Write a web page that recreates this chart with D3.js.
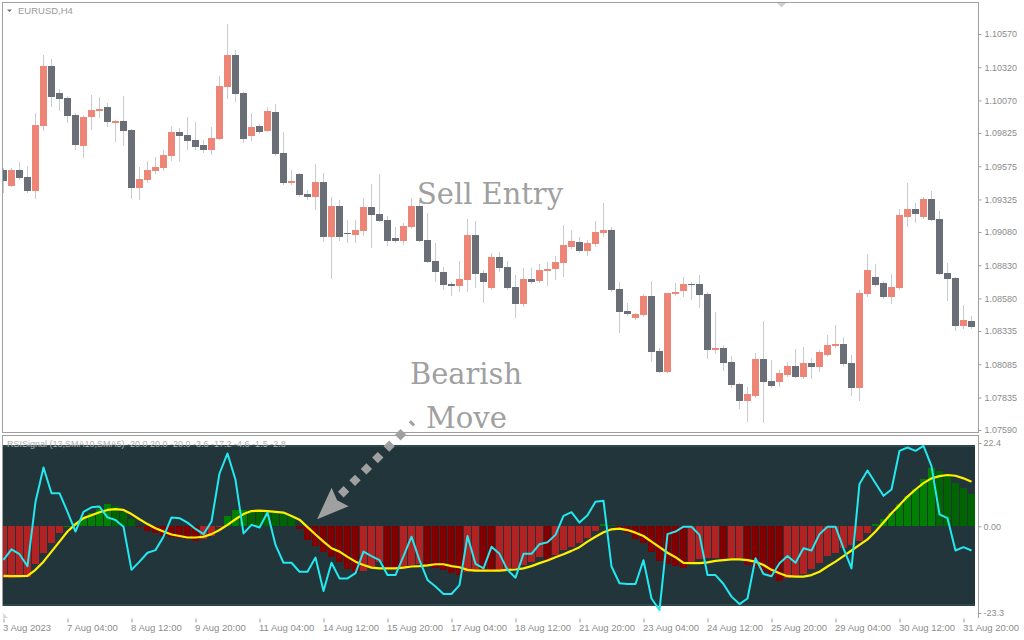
<!DOCTYPE html>
<html><head><meta charset="utf-8">
<script src="https://cdn.jsdelivr.net/npm/d3@7"></script>
<style>html,body{margin:0;padding:0;background:#fff;}svg{display:block;}</style>
</head><body>
<svg id="chart" width="1024" height="640"></svg>
<script>
// ---------------- DATA ----------------
const symbolLabel = "EURUSD,H4";
const indicatorLabel = "RSISignal (13,SMA10,SMA5) -20.0 20.0 -20.0 -3.6 -17.2 -4.6 -1.5 -2.8";

const opens = [1.09546,1.09425,1.09546,1.09493,1.09388,1.09877,1.10329,1.10126,1.10088,1.09960,
1.09727,1.09945,1.09990,1.10020,1.09900,1.09915,1.09847,1.09410,1.09471,1.09538,
1.09561,1.09651,1.09832,1.09809,1.09772,1.09734,1.09697,1.09779,1.10171,1.10412,
1.10126,1.09802,1.09877,1.09840,1.09983,1.09674,1.09448,1.09516,1.09365,1.09343,
1.09456,1.09041,1.09275,1.09072,1.09056,1.09087,1.09267,1.09215,1.09169,1.09034,
1.09011,1.09117,1.09275,1.09019,1.08861,1.08778,1.08688,1.08672,1.08718,1.09056,
1.08770,1.08657,1.08891,1.08816,1.08665,1.08537,1.08725,1.08710,1.08785,1.08800,
1.08846,1.08966,1.09004,1.08936,1.08989,1.09072,1.09094,1.08650,1.08484,1.08432,
1.08454,1.08597,1.08183,1.08025,1.08612,1.08635,1.08688,1.08688,1.08612,1.08191,
1.08206,1.08100,1.07935,1.07807,1.07844,1.08123,1.07957,1.07950,1.08002,1.08070,
1.07987,1.08093,1.08062,1.08153,1.08221,1.08236,1.08093,1.07904,1.08612,1.08740,
1.08695,1.08590,1.08657,1.09192,1.09252,1.09192,1.09328,1.09177,1.08770,1.08733,
1.08371,1.08409];
const highs = [1.09561,1.09561,1.09606,1.09576,1.09975,1.10412,1.10382,1.10156,1.10103,1.09975,
1.09960,1.10111,1.10096,1.10050,1.09922,1.10103,1.09855,1.09569,1.09614,1.09644,
1.09697,1.09877,1.09862,1.09945,1.09907,1.09772,1.09870,1.10254,1.10645,1.10450,
1.10133,1.09975,1.09892,1.10020,1.10043,1.09832,1.09546,1.09523,1.09395,1.09591,
1.09523,1.09343,1.09320,1.09169,1.09169,1.09335,1.09441,1.09516,1.09200,1.09117,
1.09147,1.09335,1.09320,1.09222,1.08996,1.08816,1.08703,1.08861,1.09177,1.09162,
1.08793,1.08921,1.08928,1.08861,1.08755,1.08808,1.08808,1.08838,1.08853,1.08898,
1.09132,1.09094,1.09041,1.09019,1.09162,1.09297,1.09117,1.08703,1.08544,1.08469,
1.08612,1.08710,1.08206,1.08620,1.08695,1.08740,1.08703,1.08755,1.08627,1.08477,
1.08228,1.08145,1.07942,1.07912,1.08168,1.08409,1.08115,1.08040,1.08100,1.08198,
1.08213,1.08130,1.08191,1.08303,1.08379,1.08288,1.08153,1.08642,1.08913,1.08838,
1.08710,1.08763,1.09252,1.09448,1.09297,1.09343,1.09388,1.09237,1.08846,1.08740,
1.08529,1.08447];
const lows = [1.09373,1.09418,1.09471,1.09373,1.09328,1.09840,1.10020,1.09990,1.09900,1.09697,
1.09636,1.09847,1.09938,1.09870,1.09757,1.09727,1.09328,1.09320,1.09448,1.09516,
1.09538,1.09614,1.09606,1.09697,1.09697,1.09674,1.09659,1.09772,1.10081,1.10058,
1.09749,1.09764,1.09817,1.09832,1.09651,1.09433,1.09433,1.09343,1.09320,1.09245,
1.09004,1.08725,1.09011,1.08996,1.08996,1.09049,1.08959,1.09154,1.08974,1.08996,
1.08981,1.09102,1.09004,1.08846,1.08703,1.08642,1.08597,1.08627,1.08627,1.08657,
1.08544,1.08642,1.08778,1.08642,1.08432,1.08514,1.08688,1.08695,1.08672,1.08718,
1.08740,1.08951,1.08921,1.08898,1.08966,1.09041,1.08627,1.08319,1.08447,1.08416,
1.08439,1.08100,1.08017,1.08017,1.08597,1.08590,1.08567,1.08507,1.08123,1.08160,
1.08032,1.07904,1.07746,1.07648,1.07829,1.07641,1.07904,1.07912,1.07987,1.07980,
1.07972,1.07972,1.08025,1.08138,1.08206,1.08062,1.07844,1.07807,1.08590,1.08665,
1.08575,1.08537,1.08642,1.09117,1.09147,1.09177,1.09162,1.08755,1.08560,1.08334,
1.08349,1.08349];
const closes = [1.09463,1.09546,1.09486,1.09388,1.09885,1.10329,1.10096,1.10081,1.09953,1.09734,
1.09945,1.09998,1.10005,1.09907,1.09915,1.09840,1.09410,1.09478,1.09546,1.09569,
1.09659,1.09832,1.09802,1.09764,1.09719,1.09697,1.09787,1.10178,1.10412,1.10118,
1.09779,1.09870,1.09832,1.09990,1.09666,1.09448,1.09463,1.09358,1.09343,1.09456,
1.09041,1.09275,1.09041,1.09064,1.09094,1.09267,1.09207,1.09162,1.09011,1.09011,
1.09124,1.09275,1.09011,1.08853,1.08778,1.08680,1.08672,1.08725,1.09056,1.08763,
1.08703,1.08891,1.08808,1.08657,1.08537,1.08725,1.08703,1.08793,1.08800,1.08853,
1.08981,1.09011,1.08936,1.08996,1.09079,1.09094,1.08642,1.08477,1.08462,1.08462,
1.08597,1.08175,1.08025,1.08620,1.08627,1.08688,1.08680,1.08605,1.08191,1.08206,
1.08093,1.07927,1.07807,1.07859,1.08123,1.07950,1.07919,1.08017,1.08070,1.07987,
1.08093,1.08062,1.08175,1.08228,1.08236,1.08085,1.07904,1.08620,1.08793,1.08680,
1.08590,1.08665,1.09207,1.09252,1.09215,1.09328,1.09169,1.08763,1.08725,1.08371,
1.08416,1.08364];

// indicator: histogram, fast signal (cyan), smoothed signal (yellow)
const histogram = [-14.0,-13.8,-13.6,-13.5,-10.0,-7.3,-4.4,-1.7,0.2,1.0,
2.3,3.5,4.6,6.0,5.5,3.8,2.0,-0.3,-1.2,-1.7,
-2.6,-3.0,-3.2,-3.5,-3.9,-3.5,-2.6,-0.2,2.8,4.4,
4.45,4.4,4.3,4.0,3.7,3.3,2.4,-0.7,-3.6,-5.4,
-6.8,-8.2,-9.5,-11.5,-12.2,-12.0,-10.8,-9.5,-11.2,-11.7,
-10.8,-10.4,-10.0,-10.4,-11.2,-11.7,-12.5,-13.1,-12.2,-11.7,
-12.2,-12.4,-12.0,-11.7,-11.3,-10.4,-9.5,-8.3,-8.9,-7.7,
-6.4,-5.5,-4.6,-3.1,-1.3,0.5,0.4,-0.9,-1.9,-3.4,
-4.4,-6.8,-9.3,-10.0,-10.6,-11.3,-10.0,-8.9,-8.6,-8.4,
-8.9,-8.6,-8.5,-10.4,-10.8,-12.2,-13.5,-14.6,-14.0,-13.3,
-12.8,-11.6,-9.8,-7.9,-7.1,-5.9,-5.0,-3.9,-1.7,0.6,
1.9,3.5,6.0,8.2,9.9,12.6,15.8,14.9,13.4,11.7,
10.4,8.7];
const signalLine = [-9.0,-6.2,-7.5,-10.7,6.6,15.8,8.9,8.9,3.9,-1.4,
3.9,5.1,5.3,2.4,1.7,-0.1,-11.7,-9.5,-7.1,-6.4,
-2.8,2.4,2.2,1.0,-0.7,-2.1,1.3,14.2,19.6,12.5,
-1.9,0.4,-0.3,3.7,-5.0,-9.8,-9.8,-12.2,-12.2,-8.4,
-17.4,-9.8,-14.0,-14.0,-12.6,-6.8,-8.0,-9.1,-13.1,-13.1,
-8.0,-2.8,-9.1,-14.4,-16.2,-18.2,-18.2,-15.8,-2.6,-10.1,
-11.3,-5.5,-7.4,-11.7,-13.8,-7.4,-7.4,-4.8,-4.3,-2.3,
2.8,3.8,1.0,3.0,6.6,6.9,-10.8,-15.3,-15.5,-15.5,
-9.1,-19.4,-22.5,-2.1,-1.4,-0.1,-0.1,-2.3,-13.1,-13.1,
-15.5,-18.9,-20.9,-19.4,-8.6,-12.8,-13.4,-9.9,-8.0,-9.8,
-5.9,-6.5,-2.1,-0.1,-0.1,-5.9,-11.3,11.4,15.0,11.6,
8.2,9.9,20.3,21.2,20.3,21.6,16.2,3.2,2.2,-6.5,
-5.6,-6.5];
const smoothLine = [-13.3,-13.4,-13.4,-13.3,-11.7,-9.5,-6.8,-4.1,-1.4,0.6,
2.2,3.0,3.8,4.4,4.6,4.4,3.3,1.9,0.6,-0.5,
-1.4,-2.2,-2.6,-3.0,-3.0,-2.8,-2.1,-1.0,0.4,1.9,
3.3,4.1,4.2,4.1,3.9,3.7,2.8,1.8,-0.2,-2.2,
-4.1,-5.9,-6.8,-8.2,-9.5,-10.4,-11.1,-11.3,-11.3,-11.3,
-11.1,-10.8,-10.7,-10.5,-10.2,-10.2,-10.7,-11.0,-11.7,-11.9,
-11.9,-11.9,-11.9,-11.7,-11.6,-11.3,-10.7,-9.9,-9.2,-8.3,
-7.5,-6.6,-5.6,-4.1,-2.8,-1.6,-0.8,-0.6,-1.0,-1.7,
-2.6,-4.1,-5.6,-7.1,-8.3,-9.8,-9.9,-9.9,-9.7,-9.3,
-9.1,-8.9,-8.9,-9.1,-9.5,-10.4,-11.7,-12.6,-13.4,-13.5,
-13.5,-13.1,-12.2,-10.8,-9.5,-8.0,-6.5,-5.0,-3.5,-1.4,
1.0,3.5,5.7,8.0,9.9,11.6,12.9,13.5,13.8,13.6,
12.9,12.0];

const priceTicks = [1.10570,1.10320,1.10070,1.09825,1.09575,1.09325,1.09080,1.08830,1.08580,1.08335,1.08085,1.07835,1.07590];
const priceTickLabels = ["1.10570","1.10320","1.10070","1.09825","1.09575","1.09325","1.09080","1.08830","1.08580","1.08335","1.08085","1.07835","1.07590"];
const indTicks = [22.4, 0, -23.3];
const indTickLabels = ["22.4","0.00","-23.3"];
const timeTickIndex = [0,8,16,24,32,40,48,56,64,72,80,88,96,104,112,120];
const timeLabels = ["3 Aug 2023","7 Aug 04:00","8 Aug 12:00","9 Aug 20:00","11 Aug 04:00","14 Aug 12:00","15 Aug 20:00","17 Aug 04:00","18 Aug 12:00","21 Aug 20:00","23 Aug 04:00","24 Aug 12:00","25 Aug 20:00","29 Aug 04:00","30 Aug 12:00","31 Aug 20:00"];
const annotations = ["Sell Entry", "Bearish", "Move"];

// ---------------- DRAWING ----------------
const svg = d3.select("#chart");
const FONT = "'Liberation Sans', Arial, sans-serif";
const FRAME = "#a0a0a0";
const LABEL = "#8c8c8c";
const n = opens.length;

const x = d3.scaleLinear().domain([0, n - 1]).range([3.5, 3.5 + 8 * (n - 1)]);
const yP = d3.scaleLinear().domain([1.07590, 1.10570]).range([430, 34]);
const yI = d3.scaleLinear().domain([-23.3, 22.4]).range([613, 443]);

const defs = svg.append("defs");
defs.append("clipPath").attr("id", "clipMain").append("rect")
  .attr("x", 3).attr("y", 3).attr("width", 975).attr("height", 429);
defs.append("clipPath").attr("id", "clipInd").append("rect")
  .attr("x", 3).attr("y", 436).attr("width", 975).attr("height", 182);

// ---- main pane frame
svg.append("rect").attr("x", 2.5).attr("y", 2.5).attr("width", 976).attr("height", 430)
  .attr("fill", "none").attr("stroke", FRAME);

// candles
const cg = svg.append("g").attr("clip-path", "url(#clipMain)");
const idx = d3.range(n);
cg.selectAll("line.wick").data(idx).join("line").attr("class", "wick")
  .attr("x1", i => x(i)).attr("x2", i => x(i))
  .attr("y1", i => Math.round(yP(highs[i]))).attr("y2", i => Math.round(yP(lows[i])))
  .attr("stroke", "#c9cbd1").attr("stroke-width", 1);
cg.selectAll("rect.body").data(idx).join("rect").attr("class", "body")
  .attr("x", i => x(i) - 3.5).attr("width", 7)
  .attr("y", i => Math.round(yP(Math.max(opens[i], closes[i]))))
  .attr("height", i => Math.max(1, Math.round(yP(Math.min(opens[i], closes[i]))) - Math.round(yP(Math.max(opens[i], closes[i])))))
  .attr("fill", i => closes[i] >= opens[i] ? "#ee8677" : "#6a6f77");

// price axis
const pAxis = d3.axisRight(yP).tickValues(priceTicks).tickFormat((d, i) => priceTickLabels[i]).tickSize(3).tickPadding(3);
svg.append("g").attr("transform", "translate(978.5,0)").call(pAxis)
  .attr("font-family", FONT).attr("font-size", 9)
  .call(g => g.select(".domain").remove())
  .call(g => g.selectAll("line").attr("stroke", FRAME))
  .call(g => g.selectAll("text").attr("fill", LABEL));

// top-left symbol label
svg.append("path").attr("d", "M7,9.5 L12,9.5 L9.5,12 Z").attr("fill", "#707070");
svg.append("text").attr("x", 18).attr("y", 14).attr("font-family", FONT).attr("font-size", 9.5)
  .attr("fill", "#9a9a9a").text(symbolLabel);
// shift marker at top
svg.append("path").attr("d", "M777,3 L786,3 L781.5,7.5 Z").attr("fill", "#cfcfcf");

// ---- indicator pane
svg.append("line").attr("x1", 2).attr("x2", 979).attr("y1", 435.5).attr("y2", 435.5).attr("stroke", FRAME);
svg.append("line").attr("x1", 2.5).attr("x2", 2.5).attr("y1", 435).attr("y2", 606).attr("stroke", FRAME);
svg.append("line").attr("x1", 978.5).attr("x2", 978.5).attr("y1", 435).attr("y2", 618).attr("stroke", FRAME);

const ig = svg.append("g").attr("clip-path", "url(#clipInd)");
ig.append("rect").attr("x", 3).attr("y", 445).attr("width", 972).attr("height", 161).attr("fill", "#22353a");
ig.append("rect").attr("x", 3).attr("y", 445).attr("width", 972).attr("height", 2).attr("fill", "#2e474c");
ig.append("rect").attr("x", 3).attr("y", 604).attr("width", 972).attr("height", 2).attr("fill", "#2e474c");

function histColor(i) {
  const v = histogram[i], p = i > 0 ? histogram[i - 1] : v;
  if (v >= 0) return v >= p ? "#008000" : "#006400";
  return v >= p ? "#b22222" : "#800000";
}
ig.selectAll("rect.hist").data(idx).join("rect").attr("class", "hist")
  .attr("x", i => x(i) - 3.5).attr("width", 7)
  .attr("y", i => Math.round(yI(Math.max(0, histogram[i]))))
  .attr("height", i => Math.max(1, Math.round(yI(Math.min(0, histogram[i]))) - Math.round(yI(Math.max(0, histogram[i])))))
  .attr("fill", histColor);

const line = d3.line().x((d, i) => x(i)).y(d => yI(d));
ig.append("path").datum(smoothLine).attr("d", line).attr("fill", "none")
  .attr("stroke", "#fff000").attr("stroke-width", 2.2).attr("stroke-linejoin", "round");
ig.append("path").datum(signalLine).attr("d", line).attr("fill", "none")
  .attr("stroke", "#22e8f0").attr("stroke-width", 2).attr("stroke-linejoin", "round");

svg.append("text").attr("x", 7).attr("y", 447).attr("font-family", FONT).attr("font-size", 9)
  .attr("fill", "#b0b0b0").text(indicatorLabel);

const iAxis = d3.axisRight(yI).tickValues(indTicks).tickFormat((d, i) => indTickLabels[i]).tickSize(3).tickPadding(2);
svg.append("g").attr("transform", "translate(978.5,0)").call(iAxis)
  .attr("font-family", FONT).attr("font-size", 9)
  .call(g => g.select(".domain").remove())
  .call(g => g.selectAll("line").attr("stroke", FRAME))
  .call(g => g.selectAll("text").attr("fill", LABEL));

svg.append("path").attr("d", "M3,613 L3,618 L8,618 Z").attr("fill", "#d8d8d8");

// time axis
const tAxis = d3.axisBottom(x).tickValues(timeTickIndex).tickFormat((d, i) => timeLabels[i]).tickSize(4).tickPadding(2);
svg.append("g").attr("transform", "translate(0,618.5)").call(tAxis)
  .attr("font-family", FONT).attr("font-size", 9.5)
  .call(g => g.select(".domain").remove())
  .call(g => g.selectAll("line").attr("stroke", FRAME))
  .call(g => g.selectAll("text").attr("fill", LABEL).attr("text-anchor", "start").attr("dx", -1));

// ---- annotations
const ANN = "#a0a0a0";
const annFont = "'DejaVu Serif', serif";
svg.append("text").attr("x", 417).attr("y", 204).attr("font-family", annFont).attr("font-size", 30)
  .attr("fill", ANN).attr("textLength", 146).attr("lengthAdjust", "spacingAndGlyphs").text(annotations[0]);
svg.append("text").attr("x", 410).attr("y", 384).attr("font-family", annFont).attr("font-size", 30)
  .attr("fill", ANN).attr("textLength", 112).attr("lengthAdjust", "spacingAndGlyphs").text(annotations[1]);
svg.append("text").attr("x", 426).attr("y", 428).attr("font-family", annFont).attr("font-size", 30)
  .attr("fill", ANN).attr("textLength", 81).attr("lengthAdjust", "spacingAndGlyphs").text(annotations[2]);

// dotted arrow from the text toward the indicator turn
const tipX = x(39.2), tipY = yI(1.9);
const dots = d3.range(6).map(j => [tipX + 26.5 + 11.4 * j, tipY - 27.5 - 11.4 * j]);
svg.selectAll("rect.dot").data(dots).join("rect").attr("class", "dot")
  .attr("x", -4).attr("y", -4).attr("width", 8).attr("height", 8)
  .attr("transform", d => `translate(${d[0]},${d[1]}) rotate(45)`).attr("fill", ANN);
svg.append("rect").attr("x", -1.5).attr("y", -3).attr("width", 3).attr("height", 6)
  .attr("transform", `translate(${tipX + 26.5 + 11.4 * 6},${tipY - 27.5 - 11.4 * 6}) rotate(-45)`).attr("fill", ANN);
svg.append("path")
  .attr("d", `M${tipX},${tipY} L${tipX + 14.5},${tipY - 31.5} L${tipX + 20},${tipY - 19} L${tipX + 31.5},${tipY - 13} Z`)
  .attr("fill", ANN);
</script>
</body></html>
